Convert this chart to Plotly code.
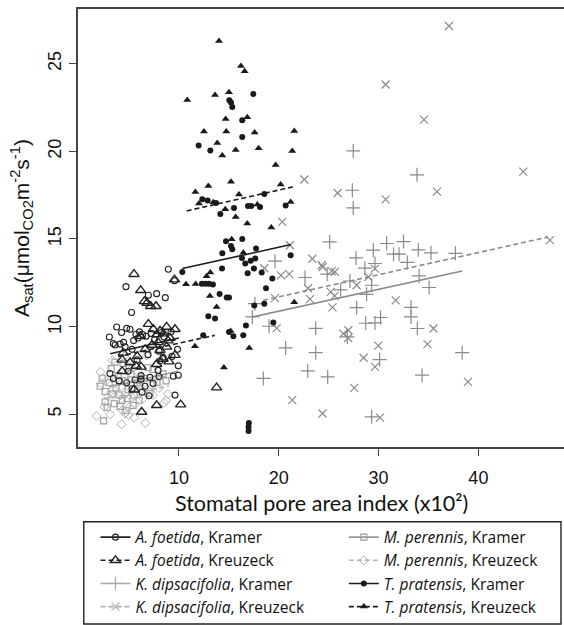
import plotly.graph_objects as go

# ---------------- data ----------------
# A. foetida, Kramer (open circles)
afK_x = [8.93, 9.55, 4.69, 6.93, 7.76, 8.63, 5.25, 3.75, 4.25, 4.76, 5.09, 3.02, 3.42, 5.69, 6.05,
         4.45, 5.45, 5.90, 6.35, 6.70, 7.20, 7.55, 8.20, 8.50, 9.20, 3.60, 4.10, 4.60, 5.30, 8.00,
         9.93, 9.93, 9.43, 3.08, 3.42, 4.00, 4.76, 6.20, 6.20, 7.09, 7.40, 8.00, 8.10, 9.60, 5.30,
         5.60, 6.60, 7.90, 8.40, 4.90, 5.80, 6.90, 9.85, 9.30, 7.00, 6.30]
afK_y = [13.27, 12.62, 12.28, 11.79, 11.88, 11.65, 10.80, 9.98, 9.66, 9.90, 9.85, 9.41, 9.03, 9.56, 9.70,
         9.10, 9.20, 9.35, 9.55, 9.45, 9.60, 9.25, 9.65, 9.40, 9.70, 8.95, 9.00, 8.85, 8.70, 8.60,
         7.76, 7.22, 7.17, 7.32, 7.04, 6.90, 6.80, 7.20, 7.00, 7.10, 6.75, 7.15, 8.05, 6.09, 6.45,
         6.95, 6.60, 7.50, 8.25, 7.45, 8.10, 8.40, 8.70, 8.30, 6.05, 6.25]
# A. foetida, Kreuzeck (open triangles)
afZ_x = [9.55, 5.49, 6.16, 6.53, 7.16, 7.70, 6.80, 6.93, 6.13, 7.43, 8.10, 8.76, 9.60, 7.80, 8.45,
         9.10, 4.42, 5.82, 8.10, 8.76, 9.60, 7.76, 6.20, 4.30, 5.10, 8.40, 9.00, 7.30, 8.90, 6.60,
         7.90, 5.70, 7.76, 6.26, 10.17, 13.77, 5.50, 4.30]
afZ_y = [12.68, 12.99, 12.07, 11.44, 11.16, 11.16, 11.35, 10.14, 9.45, 9.85, 9.75, 9.98, 9.85, 9.55, 9.60,
         9.35, 8.50, 8.30, 8.65, 8.84, 8.37, 7.85, 7.70, 8.10, 7.95, 8.15, 8.00, 8.95, 9.20, 8.70,
         9.10, 7.75, 5.51, 5.13, 5.55, 6.52, 6.40, 7.45]
# K. dipsacifolia, Kramer (plus)
kdK_x = [17.35, 17.61, 18.45, 19.02, 19.62, 20.69, 22.63, 22.90, 23.70, 23.70, 24.85, 24.90, 25.10,
         26.20, 26.87, 27.13, 27.37, 27.46, 27.46, 27.74, 27.80, 28.63, 28.71, 28.80, 29.31, 29.31,
         29.47, 29.64, 29.64, 30.10, 30.20, 30.81, 31.50, 32.05, 32.50, 32.88, 33.25, 33.25, 33.85,
         33.88, 33.98, 34.06, 34.36, 35.07, 35.25, 37.70, 38.38]
kdK_y = [10.55, 11.31, 7.04, 10.02, 13.73, 8.78, 12.80, 7.47, 9.90, 8.51, 12.99, 7.13, 14.83,
         12.10, 9.41, 12.60, 17.78, 20.02, 16.77, 13.92, 11.08, 13.33, 10.19, 11.84, 12.36, 4.85,
         14.36, 13.60, 10.21, 8.12, 10.52, 14.74, 14.13, 14.13, 14.85, 13.66, 11.10, 10.55, 18.66,
         9.89, 14.38, 12.89, 7.23, 12.23, 14.21, 14.18, 8.51]
# K. dipsacifolia, Kreuzeck (cross)
kdZ_x = [18.55, 19.62, 19.79, 20.22, 21.05, 20.35, 21.12, 21.35, 22.56, 22.93, 23.13, 23.36, 24.30,
         24.40, 24.38, 25.30, 25.62, 25.20, 25.60, 25.38, 25.90, 26.46, 26.97, 26.95, 27.56, 27.80,
         28.50, 28.97, 29.64, 29.64, 29.97, 30.14, 30.71, 30.71, 31.71, 34.55, 34.90, 35.50, 35.85,
         37.05, 38.95, 44.50, 47.17]
kdZ_y = [13.33, 11.62, 9.91, 12.92, 12.99, 15.97, 14.64, 5.80, 18.39, 12.19, 11.57, 13.87, 13.50,
         13.40, 5.04, 13.16, 13.12, 11.98, 11.75, 11.10, 17.62, 9.60, 9.79, 9.35, 6.50, 12.36,
         8.22, 12.83, 13.31, 7.70, 8.91, 4.81, 17.26, 23.81, 11.50, 21.81, 9.00, 9.89, 17.70,
         27.15, 6.85, 18.84, 14.93]
# M. perennis, Kramer (open squares)
mpK_x = [2.45, 3.58, 4.40, 2.30, 2.10, 2.60, 3.00, 3.30, 3.70, 4.00, 4.30, 4.60, 4.90, 5.20, 5.50,
         5.80, 3.50, 4.10, 4.80, 5.40, 6.10, 6.50, 6.90, 7.40, 7.80, 8.40, 8.70, 2.80, 3.90, 5.00,
         3.20, 4.70, 6.00, 7.10, 2.60]
mpK_y = [4.62, 7.97, 7.90, 7.05, 6.60, 6.30, 6.80, 6.15, 6.50, 6.10, 5.80, 6.90, 6.40, 7.30, 6.10,
         6.80, 5.60, 5.45, 5.90, 5.50, 6.60, 7.05, 7.65, 7.55, 6.80, 7.30, 6.90, 5.40, 7.20, 7.70,
         7.60, 5.20, 5.80, 6.20, 5.70]
# M. perennis, Kreuzeck (open diamonds)
mpZ_x = [1.72, 4.25, 6.63, 2.52, 3.34, 8.71, 8.50, 4.32, 4.60, 5.00, 2.12, 2.22, 2.90, 3.40, 3.80,
         4.20, 4.70, 5.20, 5.60, 6.00, 6.40, 6.80, 7.20, 7.60, 8.00, 8.90, 5.30, 5.90, 4.50, 3.10,
         4.95, 5.50, 7.40, 2.70, 6.20, 3.70, 6.76]
mpZ_y = [4.90, 4.43, 4.50, 5.42, 8.08, 5.80, 5.65, 5.23, 5.05, 5.40, 7.41, 6.75, 6.00, 6.40, 5.90,
         6.60, 6.20, 6.00, 5.60, 6.30, 5.90, 6.40, 6.70, 7.00, 6.50, 6.15, 7.60, 7.40, 8.30, 5.00,
         4.95, 4.80, 6.10, 6.90, 6.90, 7.00, 8.35]
# T. pratensis, Kramer (filled circles)
tpK_x = [17.45, 15.04, 15.21, 15.34, 16.34, 16.34, 11.97, 13.14, 18.55, 12.34, 12.87, 13.71, 14.14,
         15.51, 16.91, 17.24, 18.12, 20.69, 14.71, 16.34, 15.21, 15.34, 14.34, 17.72, 16.31, 16.64,
         17.18, 17.64, 21.19, 14.31, 16.88, 17.51, 18.29, 19.35, 10.33, 12.30, 12.65, 13.00, 13.40,
         14.07, 14.78, 15.01, 18.72, 17.54, 18.55, 19.45, 16.71, 16.44, 12.94, 13.61, 12.43, 15.01,
         15.45, 17.00, 16.97, 16.97]
tpK_y = [23.27, 22.91, 22.78, 22.53, 21.77, 20.82, 20.33, 20.04, 17.57, 17.26, 17.19, 17.05, 16.43,
         16.77, 16.88, 16.88, 16.83, 16.91, 14.87, 15.00, 14.60, 14.41, 14.18, 14.45, 13.92, 13.60,
         13.75, 13.88, 14.07, 13.31, 13.04, 13.31, 13.08, 12.74, 13.12, 12.45, 12.45, 12.45, 12.40,
         11.86, 11.66, 11.66, 12.19, 11.20, 11.30, 10.23, 10.06, 9.51, 10.59, 10.46, 9.51, 9.69,
         9.45, 4.50, 4.27, 4.05]
# T. pratensis, Kreuzeck (filled triangles)
tpZ_x = [14.01, 16.21, 16.58, 10.83, 13.61, 15.01, 14.68, 16.84, 12.50, 14.74, 17.58, 21.55, 13.84,
         14.34, 15.68, 17.98, 21.35, 19.69, 12.94, 15.21, 20.19, 11.64, 12.00, 13.44, 16.01, 14.64,
         17.85, 21.19, 15.68, 16.84, 19.25, 15.28, 16.45, 10.70, 11.67, 13.14, 12.77, 13.10, 13.77,
         21.55, 11.60, 15.18, 17.04, 14.50]
tpZ_y = [26.29, 24.87, 24.57, 22.93, 23.21, 23.37, 21.85, 21.94, 21.13, 21.13, 21.07, 21.16, 20.48,
         19.76, 20.08, 20.17, 20.02, 19.22, 18.02, 18.27, 18.10, 17.68, 17.02, 17.09, 17.53, 16.69,
         16.96, 17.11, 16.25, 15.88, 15.65, 14.98, 14.22, 12.42, 12.43, 13.08, 12.87, 11.75, 11.12,
         11.39, 8.88, 9.75, 8.78, 7.66]

# regression lines (start / end)
afK_fit_x = [3.10, 10.00];  afK_fit_y = [8.45, 9.35]
afZ_fit_x = [3.90, 13.60];  afZ_fit_y = [8.30, 9.50]
kdK_fit_x = [17.35, 38.38]; kdK_fit_y = [10.55, 13.17]
kdZ_fit_x = [18.45, 47.00]; kdZ_fit_y = [11.50, 15.11]
mpK_fit_x = [3.00, 9.90];   mpK_fit_y = [6.55, 7.45]
mpZ_fit_x = [2.50, 9.00];   mpZ_fit_y = [5.90, 6.60]
tpK_fit_x = [10.33, 21.22]; tpK_fit_y = [13.31, 14.68]
tpZ_fit_x = [10.77, 21.39]; tpZ_fit_y = [16.60, 17.97]

x_ticks = [10, 20, 30, 40]
y_ticks = [5, 10, 15, 20, 25]

DASH = "5px,3px"
series = [
    # name, x, y, fit x, fit y, symbol, color, size, marker line width, dash, legend, legend colour
    ("<i>K. dipsacifolia</i>, Kramer", kdK_x, kdK_y, kdK_fit_x, kdK_fit_y, "cross-thin-open", "#8a8a8a", 10, 1.2, "solid", "legend", "#aaaaaa"),
    ("<i>K. dipsacifolia</i>, Kreuzeck", kdZ_x, kdZ_y, kdZ_fit_x, kdZ_fit_y, "x-thin-open", "#8a8a8a", 8, 1.2, DASH, "legend", "#b0b0b0"),
    ("<i>M. perennis</i>, Kramer", mpK_x, mpK_y, mpK_fit_x, mpK_fit_y, "square-open", "#999999", 6, 1.1, "solid", "legend2", "#999999"),
    ("<i>M. perennis</i>, Kreuzeck", mpZ_x, mpZ_y, mpZ_fit_x, mpZ_fit_y, "diamond-open", "#b4b4b4", 7, 1.0, DASH, "legend2", "#b4b4b4"),
    ("<i>A. foetida</i>, Kramer", afK_x, afK_y, afK_fit_x, afK_fit_y, "circle-open", "#222222", 6, 1.1, "solid", "legend", "#222222"),
    ("<i>A. foetida</i>, Kreuzeck", afZ_x, afZ_y, afZ_fit_x, afZ_fit_y, "triangle-up-open", "#222222", 9, 1.4, DASH, "legend", "#222222"),
    ("<i>T. pratensis</i>, Kramer", tpK_x, tpK_y, tpK_fit_x, tpK_fit_y, "circle", "#1a1a1a", 6, 0, "solid", "legend2", "#1a1a1a"),
    ("<i>T. pratensis</i>, Kreuzeck", tpZ_x, tpZ_y, tpZ_fit_x, tpZ_fit_y, "triangle-up", "#1a1a1a", 7, 0, DASH, "legend2", "#1a1a1a"),
]
legend_order = {
    "<i>A. foetida</i>, Kramer": 1, "<i>A. foetida</i>, Kreuzeck": 2,
    "<i>K. dipsacifolia</i>, Kramer": 3, "<i>K. dipsacifolia</i>, Kreuzeck": 4,
    "<i>M. perennis</i>, Kramer": 5, "<i>M. perennis</i>, Kreuzeck": 6,
    "<i>T. pratensis</i>, Kramer": 7, "<i>T. pratensis</i>, Kreuzeck": 8,
}

fig = go.Figure()
for name, xs, ys, fx, fy, sym, col, size, lw, dash, leg, lcol in series:
    fig.add_trace(go.Scatter(
        x=xs, y=ys, mode="markers", showlegend=False, hoverinfo="skip",
        marker=dict(symbol=sym, size=size, color=col,
                    line=dict(color=col, width=lw if lw else 0))))
    fig.add_trace(go.Scatter(
        x=fx, y=fy, mode="lines", showlegend=False, hoverinfo="skip",
        line=dict(color=col, width=1.6, dash=dash)))
    # legend-only entry
    fig.add_trace(go.Scatter(
        x=[None], y=[None], mode="lines+markers", name=name, legend=leg,
        legendrank=legend_order[name],
        marker=dict(symbol=sym, size=size, color=lcol,
                    line=dict(color=lcol, width=lw if lw else 0)),
        line=dict(color=lcol, width=1.6, dash=dash)))

axis_col = "#444444"
legend_font = dict(family="Open Sans, sans-serif", size=15.5, color="#111111")
fig.update_layout(
    width=564, height=625,
    margin=dict(l=78, r=0, t=9, b=178),
    paper_bgcolor="white", plot_bgcolor="white",
    font=dict(family="Liberation Sans, Arial, sans-serif", color="#111111"),
    xaxis=dict(range=[-0.12, 48.58], tickvals=x_ticks, showgrid=False, zeroline=False,
               showline=True, mirror=True, linecolor=axis_col, linewidth=1.5,
               ticks="outside", ticklen=7, tickwidth=1.3, tickcolor=axis_col,
               tickfont=dict(size=18, color="#111111"), ticklabelstandoff=7),
    yaxis=dict(range=[3.13, 28.12], tickvals=y_ticks, showgrid=False, zeroline=False,
               showline=True, mirror=False, linecolor=axis_col, linewidth=1.5,
               ticks="outside", ticklen=7, tickwidth=1.3, tickcolor=axis_col,
               tickangle=-90, tickfont=dict(size=18, color="#111111"), ticklabelstandoff=1,
               title=dict(text="A<sub>sat</sub>(μmol<sub>CO2</sub>m<sup>-2</sup>s<sup>-1</sup>)",
                          font=dict(size=21, color="#111111"), standoff=10)),
    legend=dict(x=0.036, y=-0.168, xanchor="left", yanchor="top", bgcolor="rgba(0,0,0,0)",
                font=legend_font, tracegroupgap=0, itemwidth=30),
    legend2=dict(x=0.547, y=-0.168, xanchor="left", yanchor="top", bgcolor="rgba(0,0,0,0)",
                 font=legend_font, tracegroupgap=0, itemwidth=30),
    shapes=[dict(type="rect", xref="paper", yref="paper",
                 x0=0.0119, x1=0.9938, y0=-0.4041, y1=-0.1705,
                 line=dict(color="#222222", width=1.4))],
    annotations=[dict(text="Stomatal pore area index (x10²)", xref="paper", yref="paper",
                      x=0.5, y=-0.127, xanchor="center", yanchor="middle", showarrow=False,
                      font=dict(family="Lato, sans-serif", size=21.5, color="#111111"))],
)

fig.write_html("out.html")
